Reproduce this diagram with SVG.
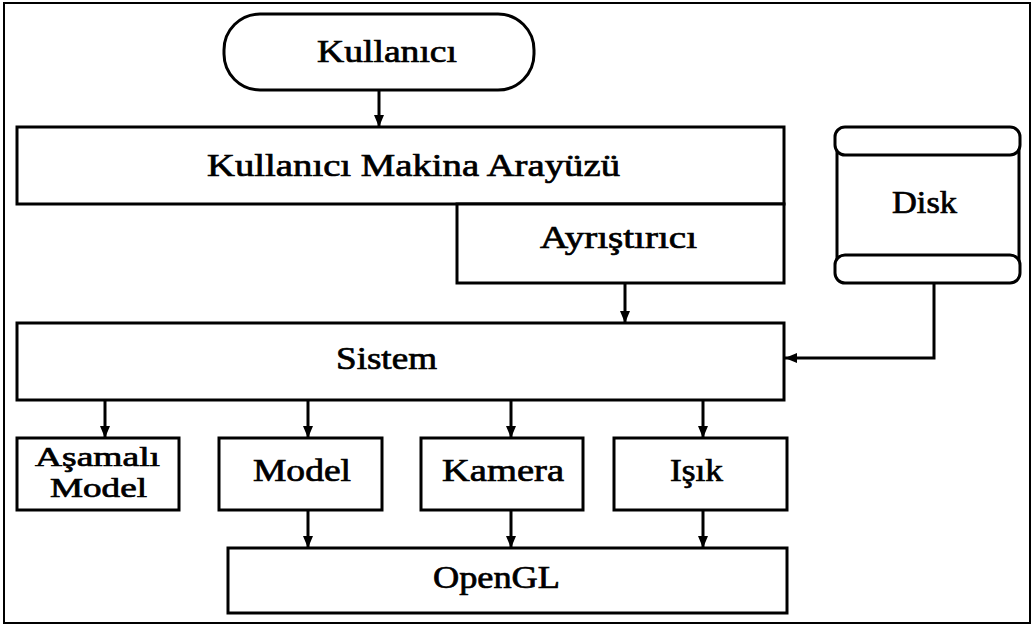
<svg xmlns="http://www.w3.org/2000/svg" width="1034" height="627" viewBox="0 0 1034 627">
<style>
.box{fill:#fff;stroke:#000;stroke-width:3}
.t{font-family:"Liberation Serif",serif;font-weight:normal;font-size:31px;fill:#000;stroke:#000;stroke-width:0.7}
.s{font-size:27px}
.c{fill:none;stroke:#000;stroke-width:3}
</style>
<defs>
<marker id="ah" viewBox="0 0 12 10" refX="12" refY="5" markerWidth="12" markerHeight="10" markerUnits="userSpaceOnUse" orient="auto">
<path d="M0,0 L12,5 L0,10 Z" fill="#000"/>
</marker>
</defs>
<rect x="4" y="3" width="1026" height="620" fill="#fff" stroke="#000" stroke-width="2"/>
<g id="kullanici">
<rect class="box" x="224" y="14" width="310" height="76" rx="36" ry="36"/>
<text class="t" x="317" y="62" textLength="140" lengthAdjust="spacingAndGlyphs">Kullanıcı</text>
</g>
<g id="kma">
<rect class="box" x="17" y="127" width="767" height="77"/>
<text class="t" x="207" y="176" textLength="413" lengthAdjust="spacingAndGlyphs">Kullanıcı Makina Arayüzü</text>
</g>
<g id="ayristirici">
<rect class="box" x="457" y="204" width="327" height="79"/>
<text class="t" x="540" y="248" textLength="157" lengthAdjust="spacingAndGlyphs">Ayrıştırıcı</text>
</g>
<g id="disk">
<path class="box" d="M837,141 L837,269 M1019,141 L1019,269"/>
<rect class="box" x="835" y="127" width="185" height="28" rx="10" ry="10"/>
<rect class="box" x="835" y="255" width="185" height="28" rx="10" ry="10"/>
<text class="t" x="892" y="213" textLength="65" lengthAdjust="spacingAndGlyphs">Disk</text>
</g>
<g id="sistem">
<rect class="box" x="17" y="323" width="767" height="77"/>
<text class="t" x="336" y="369" textLength="101" lengthAdjust="spacingAndGlyphs">Sistem</text>
</g>
<g id="asamali">
<rect class="box" x="17" y="438" width="162" height="72"/>
<text class="t s" x="35" y="466" textLength="125" lengthAdjust="spacingAndGlyphs">Aşamalı</text>
<text class="t s" x="50" y="497" textLength="97" lengthAdjust="spacingAndGlyphs">Model</text>
</g>
<g id="model">
<rect class="box" x="219" y="438" width="163" height="72"/>
<text class="t" x="253" y="481" textLength="98" lengthAdjust="spacingAndGlyphs">Model</text>
</g>
<g id="kamera">
<rect class="box" x="421" y="438" width="162" height="72"/>
<text class="t" x="442" y="481" textLength="122" lengthAdjust="spacingAndGlyphs">Kamera</text>
</g>
<g id="isik">
<rect class="box" x="614" y="438" width="173" height="72"/>
<text class="t" x="670" y="481" textLength="53" lengthAdjust="spacingAndGlyphs">Işık</text>
</g>
<g id="opengl">
<rect class="box" x="228" y="548" width="559" height="65"/>
<text class="t" x="433" y="588" textLength="127" lengthAdjust="spacingAndGlyphs">OpenGL</text>
</g>
<g id="connectors">
<path class="c" d="M379,90 L379,127" marker-end="url(#ah)"/>
<path class="c" d="M625,283 L625,323" marker-end="url(#ah)"/>
<path class="c" d="M934,283 L934,358 L785,358" marker-end="url(#ah)"/>
<path class="c" d="M105,400 L105,438" marker-end="url(#ah)"/>
<path class="c" d="M308,400 L308,438" marker-end="url(#ah)"/>
<path class="c" d="M511,400 L511,438" marker-end="url(#ah)"/>
<path class="c" d="M703,400 L703,438" marker-end="url(#ah)"/>
<path class="c" d="M308,510 L308,548" marker-end="url(#ah)"/>
<path class="c" d="M511,510 L511,548" marker-end="url(#ah)"/>
<path class="c" d="M703,510 L703,548" marker-end="url(#ah)"/>
</g>
</svg>
